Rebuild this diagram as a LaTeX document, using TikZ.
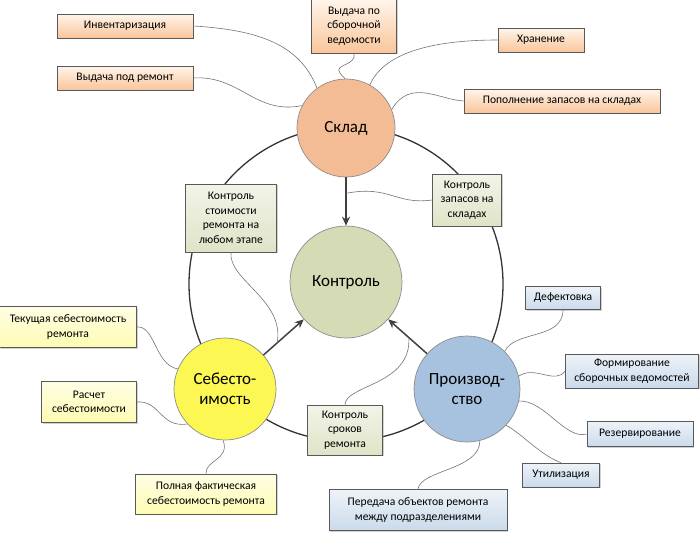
\documentclass[tikz,border=0pt]{standalone}
\usepackage{fontspec}
\setmainfont{Carlito}
\usetikzlibrary{arrows.meta,shadows}
\definecolor{skladfill}{HTML}{F4BC94}
\definecolor{kontrfill}{HTML}{D4DBB5}
\definecolor{sebfill}{HTML}{FCF752}
\definecolor{prfill}{HTML}{A7C2DE}

\begin{document}
\begin{tikzpicture}[x=1pt,y=-1pt,
roundnode/.style={circle, draw=black!45, line width=0.7pt, inner sep=0pt, align=center, font=\fontsize{17}{20}\selectfont},
boxnode/.style={draw=black!65, line width=0.6pt, inner sep=2pt, align=center, font=\fontsize{11.6}{14.5}\selectfont, drop shadow={shadow xshift=1.2pt, shadow yshift=-1.2pt, opacity=0.3, fill=black!60}},
orangebox/.style={boxnode, top color=orange!8, bottom color=orange!25!skladfill!70},
greenbox/.style={boxnode, top color=kontrfill!30, bottom color=kontrfill!75},
yellowbox/.style={boxnode, top color=sebfill!15, bottom color=sebfill!45},
bluebox/.style={boxnode, top color=prfill!20, bottom color=prfill!60},
mainarrow/.style={-{Stealth[length=9pt,width=8pt]}, line width=1.5pt, draw=black!75},
linkline/.style={draw=black!55, line width=0.6pt}
]
    \useasboundingbox (0,0) rectangle (700,533);
    \draw[line width=1.3pt, black!80] (346,284) circle[radius=157pt];

    \node [roundnode, fill=skladfill, minimum size=98pt] (s) at (346,128) {Склад};
    \node [roundnode, fill=kontrfill, minimum size=112pt] (k) at (346,282) {Контроль};
    \node [roundnode, fill=sebfill, minimum size=102pt] (c) at (225,389) {Себесто-\\имость};
    \node [roundnode, fill=prfill, minimum size=106pt] (p) at (467,389) {Производ-\\ство};

    \node [orangebox, minimum width=136pt, minimum height=24pt] (s1) at (125,26) {Инвентаризация};
    \node [orangebox, minimum width=136pt, minimum height=24pt] (s2) at (125,78) {Выдача под ремонт};
    \node [orangebox, minimum width=85pt, minimum height=54pt] (s3) at (354,26) {Выдача по\\сборочной\\ведомости};
    \node [orangebox, minimum width=86pt, minimum height=24pt] (s4) at (541,40) {Хранение};
    \node [orangebox, minimum width=196pt, minimum height=24pt] (s5) at (562,101) {Пополнение запасов на складах};

    \node [greenbox, minimum width=91pt, minimum height=68pt] (k1) at (231,218) {Контроль\\стоимости\\ремонта на\\любом этапе};
    \node [greenbox, minimum width=69pt, minimum height=52pt] (k2) at (467,200) {Контроль\\запасов на\\складах};
    \node [greenbox, minimum width=75pt, minimum height=50pt] (k3) at (345,430) {Контроль\\сроков\\ремонта};

    \node [yellowbox, minimum width=137pt, minimum height=41pt] (c1) at (68,327) {Текущая себестоимость\\ремонта};
    \node [yellowbox, minimum width=95pt, minimum height=41pt] (c2) at (89,402) {Расчет\\себестоимости};
    \node [yellowbox, minimum width=141pt, minimum height=40pt] (c3) at (206,494) {Полная фактическая\\себестоимость ремонта};

    \node [bluebox, minimum width=75pt, minimum height=23pt] (p1) at (563,298) {Дефектовка};
    \node [bluebox, minimum width=133pt, minimum height=34pt] (p2) at (632,371) {Формирование\\сборочных ведомостей};
    \node [bluebox, minimum width=106pt, minimum height=25pt] (p3) at (640,434) {Резервирование};
    \node [bluebox, minimum width=77pt, minimum height=24pt] (p4) at (561,475) {Утилизация};
    \node [bluebox, minimum width=178pt, minimum height=41pt] (p5) at (418,510) {Передача объектов ремонта\\между подразделениями};

    \draw[mainarrow] (s) -- coordinate[pos=0.33] (sk) (k);
    \draw[mainarrow] (c) -- coordinate[pos=0.34] (ck) (k);
    \draw[mainarrow] (p) -- coordinate[pos=0.47] (pk) (k);

    \draw[linkline] (s1.east) .. controls (260,30) and (300,45) .. (s.126);
    \draw[linkline] (s2.east) .. controls (240,75) and (255,115) .. (s.153);
    \draw[linkline] (s3.south) .. controls (357,66) and (333,64) .. (340,73) .. controls (343,78) and (346,78) .. (s.92);
    \draw[linkline] (s4.west) .. controls (440,40) and (385,50) .. (s.61);
    \draw[linkline] (s5.west) .. controls (440,100) and (410,78) .. (s.22);

    \draw[linkline] (sk) .. controls (390,185) and (395,205) .. (k2.west);
    \draw[linkline] (k1.south) .. controls (228,280) and (285,300) .. (ck);
    \draw[linkline] (k3.north) .. controls (345,385) and (412,385) .. (pk);

    \draw[linkline] (c1.east) .. controls (155,325) and (155,365) .. (c.157);
    \draw[linkline] (c2.east) .. controls (160,400) and (160,428) .. (c.223);
    \draw[linkline] (c3.north) .. controls (205,460) and (230,460) .. (c.268);

    \draw[linkline] (p1.south) .. controls (563,340) and (515,330) .. (p.45);
    \draw[linkline] (p2.west) .. controls (555,385) and (535,365) .. (p.14);
    \draw[linkline] (p3.west) .. controls (565,440) and (545,400) .. (p.-13);
    \draw[linkline] (p4.north) .. controls (540,455) and (520,432) .. (p.-43);
    \draw[linkline] (p5.north) .. controls (420,470) and (480,470) .. (p.-76);
\end{tikzpicture}
\end{document}
